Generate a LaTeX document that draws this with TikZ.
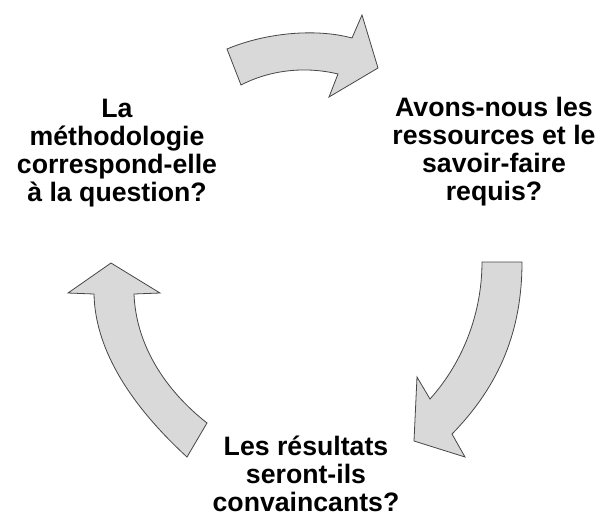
\documentclass[tikz,border=0pt]{standalone}
\usepackage{fontspec}
\setmainfont{Liberation Sans}
\usetikzlibrary{positioning}
\definecolor{arrowgray}{RGB}{217,217,217}
\definecolor{edgegray}{RGB}{70,70,70}

\begin{document}
\begin{tikzpicture}[
x=0.75pt, y=-0.75pt,
question/.style={font=\bfseries\fontsize{20}{21}\selectfont, align=center, inner sep=0pt, anchor=base},
cyclearrow/.style={fill=arrowgray, draw=edgegray, line width=0.6pt, line join=miter}
]
\useasboundingbox (0,0) rectangle (600,515);

\node[question] (methode) at (117,201) {La\\méthodologie\\correspond-elle\\à la question?};
\node[question] (ressources) at (494,200) {Avons-nous les\\ressources et le\\savoir-faire\\requis?};
\node[question] (resultats) at (306,511) {Les résultats\\seront-ils\\convaincants?};

% top arrow
\draw[cyclearrow] (227,49) .. controls (265,33) and (315,28) .. (352,38)
  -- (362,15) -- (378,68) -- (329,97) -- (338,74)
  .. controls (305,66) and (270,70) .. (241,85) -- cycle;
% right arrow
\draw[cyclearrow] (482,262) -- (522,262) .. controls (522,330) and (500,385) .. (452,434)
  -- (465,457) -- (414,441) -- (417,377) -- (430,399)
  .. controls (465,360) and (482,310) .. (482,262) -- cycle;
% left arrow
\draw[cyclearrow] (207,423) -- (187,457) .. controls (125,400) and (95,345) .. (94,294)
  -- (68,293) -- (111,263) -- (160,293) -- (134,294)
  .. controls (136,345) and (165,390) .. (207,423) -- cycle;
\end{tikzpicture}
\end{document}
